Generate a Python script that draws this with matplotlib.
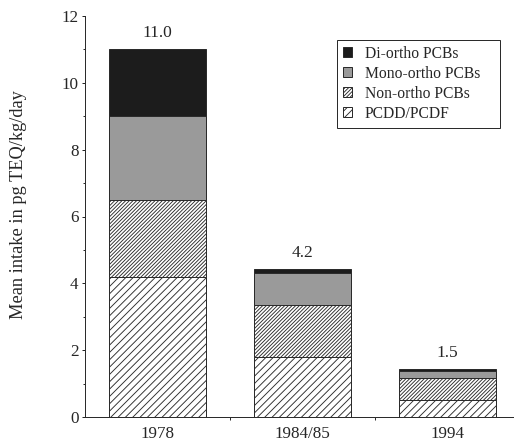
import numpy as np
import matplotlib
matplotlib.use('Agg')
import matplotlib.pyplot as plt
from matplotlib.ticker import MultipleLocator, FixedLocator

# data
years = ['1978', '1984/85', '1994']
total_labels = ['11.0', '4.2', '1.5']
pcdd_pcdf = [4.2, 1.8, 0.5]
non_ortho = [2.3, 1.55, 0.68]
mono_ortho = [2.5, 0.95, 0.19]
di_ortho = [2.0, 0.13, 0.07]

DPI = 66
PX = 72 / DPI  # points per pixel at this dpi
INK = '#2b2b2b'
TXT = '#262626'

plt.rcParams['font.family'] = ['Liberation Serif', 'DejaVu Serif']
plt.rcParams['hatch.linewidth'] = 0.9 * PX
plt.rcParams['hatch.color'] = INK

fig = plt.figure(figsize=(514 / DPI, 444 / DPI), dpi=DPI)
ax = fig.add_axes([85 / 514, 27 / 444, 428 / 514, 401 / 444])

x = np.arange(len(years))
width = 0.67
bar_kw = dict(width=width, edgecolor=INK, linewidth=1.0 * PX)

b1 = ax.bar(x, pcdd_pcdf, color='white', hatch='///', label='PCDD/PCDF', **bar_kw)
bottom = np.array(pcdd_pcdf)
b2 = ax.bar(x, non_ortho, bottom=bottom, color='white', hatch='//////',
            label='Non-ortho PCBs', **bar_kw)
bottom = bottom + np.array(non_ortho)
b3 = ax.bar(x, mono_ortho, bottom=bottom, color='#9a9a9a',
            label='Mono-ortho PCBs', **bar_kw)
bottom = bottom + np.array(mono_ortho)
b4 = ax.bar(x, di_ortho, bottom=bottom, color='#1c1c1c',
            label='Di-ortho PCBs', **bar_kw)
bottom = bottom + np.array(di_ortho)

for xi, top, lab in zip(x, bottom, total_labels):
    ax.text(xi, top + 0.48, lab, ha='center', va='center', fontsize=19, color=TXT)

ax.set_xlim(-0.5, 2.45)
ax.set_ylim(0, 12)

ax.spines['top'].set_visible(False)
ax.spines['right'].set_visible(False)
for s in ('left', 'bottom'):
    ax.spines[s].set_color(INK)
    ax.spines[s].set_linewidth(1.0 * PX)

ax.set_xticks(x)
ax.set_xticklabels(years)
ax.xaxis.set_minor_locator(FixedLocator([0.5, 1.5]))
ax.tick_params(axis='x', which='major', length=0, pad=9 * PX, labelsize=18.5, colors=TXT)
ax.tick_params(axis='x', which='minor', length=3 * PX, width=1.0 * PX, direction='out', color=INK)

ax.yaxis.set_major_locator(MultipleLocator(2))
ax.yaxis.set_minor_locator(MultipleLocator(1))
ax.tick_params(axis='y', which='major', length=3.5 * PX, width=1.0 * PX, pad=3 * PX,
               labelsize=18.5, colors=TXT)
ax.tick_params(axis='y', which='minor', length=2 * PX, width=1.0 * PX, color=INK)

fig.text(19 / 514, 1 - 205 / 444, 'Mean intake in pg TEQ/kg/day', rotation=90,
         ha='center', va='center', fontsize=20, color=TXT)

handles = [b4, b3, b2, b1]
leg = fig.legend(handles=handles, labels=[h.get_label() for h in handles],
                 loc='upper left',
                 bbox_to_anchor=(337 / 514, 1 - 127 / 444, 163 / 514, 87 / 444),
                 mode='expand', fontsize=17, frameon=True, fancybox=False,
                 framealpha=1, edgecolor=INK, handlelength=0.6, handleheight=0.6,
                 handletextpad=0.8, borderpad=0.38, labelspacing=0.25,
                 borderaxespad=0)
leg.get_frame().set_linewidth(1.0 * PX)
for t in leg.get_texts():
    t.set_color(TXT)

fig.savefig('out.png', dpi=DPI)
